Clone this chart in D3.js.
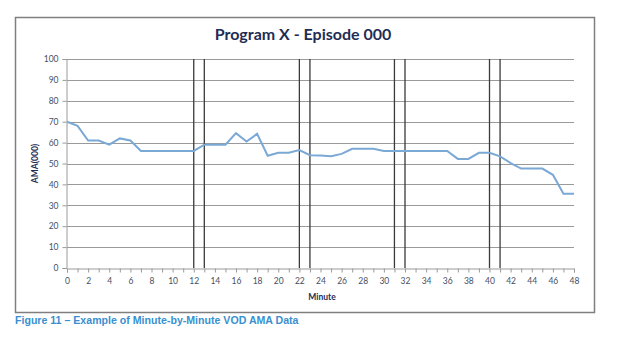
<!DOCTYPE html>
<html>
<head>
<meta charset="utf-8">
<script src="https://cdn.jsdelivr.net/npm/d3@7"></script>
<style>
  body { margin: 0; background: #fff; }
  svg { display: block; }
</style>
</head>
<body>
<svg id="chart" width="622" height="352"></svg>
<script>
// minute-by-minute AMA values (thousands)
var minutes = d3.range(0, 49);
var ama = [70, 68, 61, 61, 59, 62, 61, 56, 56, 56,
           56, 56, 56, 59, 59, 59, 64.5, 60.5, 64.2, 53.7,
           55.1, 55.1, 56.4, 54, 53.8, 53.5, 54.6, 57, 57, 57,
           56, 56, 56, 56, 56, 56, 56, 52.2, 52.2, 55.1,
           55.1, 53.4, 50.2, 47.6, 47.6, 47.6, 44.6, 35.5, 35.5];
// ad-break boundaries
var breakLines = [12, 13, 22, 23, 31, 32, 40, 41];
var yTicks = d3.range(0, 101, 10);

var title = "Program X - Episode 000";
var caption = "Figure 11 \u2013 Example of Minute-by-Minute VOD AMA Data";

var svg = d3.select("#chart");

// outer frame
svg.append("rect")
    .attr("x", 15.5).attr("y", 17.5)
    .attr("width", 579).attr("height", 295)
    .attr("fill", "#fff")
    .attr("stroke", "#7f7f7f")
    .attr("stroke-width", 1.5);

var x = d3.scaleLinear().domain([0, 48]).range([67, 574]);
var y = d3.scaleLinear().domain([0, 100]).range([268, 59]);

var navy = "#1f2d55";
var font = "Lato, 'Open Sans', sans-serif";

// gridlines
svg.append("g")
    .selectAll("line")
    .data(yTicks.filter(function (d) { return d > 0; }))
    .enter()
    .append("line")
    .attr("x1", x(0)).attr("x2", x(48))
    .attr("y1", function (d) { return Math.round(y(d)) + 0.5; })
    .attr("y2", function (d) { return Math.round(y(d)) + 0.5; })
    .attr("stroke", "#9a9a9a")
    .attr("stroke-width", 1);

// y axis
var yAxis = svg.append("g")
    .attr("transform", "translate(" + (x(0) - 0.5) + ",0)")
    .call(d3.axisLeft(y).tickValues(yTicks).tickSize(4).tickPadding(4));
yAxis.select(".domain").attr("stroke", "#9a9a9a");
yAxis.selectAll(".tick line").attr("stroke", "#9a9a9a");
yAxis.selectAll("text")
    .attr("fill", "#445066")
    .style("font-family", font)
    .style("font-size", "8.5px");

// x axis with minute ticks
var xAxis = svg.append("g")
    .attr("transform", "translate(0," + (y(0) + 0.5) + ")")
    .call(d3.axisBottom(x).tickValues(minutes).tickSize(4).tickPadding(5)
        .tickFormat(function (d) { return d % 2 === 0 ? d : ""; }));
xAxis.select(".domain").attr("stroke", "#9a9a9a");
xAxis.selectAll(".tick line").attr("stroke", "#9a9a9a");
xAxis.selectAll("text")
    .attr("fill", "#445066")
    .style("font-family", font)
    .style("font-size", "8.5px");

// break markers
svg.append("g")
    .selectAll("line")
    .data(breakLines)
    .enter()
    .append("line")
    .attr("x1", function (d) { return x(d); })
    .attr("x2", function (d) { return x(d); })
    .attr("y1", y(100)).attr("y2", y(0))
    .attr("stroke", "#3a3a3a")
    .attr("stroke-width", 1.3);

// AMA line
var line = d3.line()
    .x(function (d, i) { return x(minutes[i]); })
    .y(function (d) { return y(d); });

svg.append("path")
    .datum(ama)
    .attr("d", line)
    .attr("fill", "none")
    .attr("stroke", "#7aa9d6")
    .attr("stroke-width", 2);

// titles
svg.append("text")
    .attr("x", 303).attr("y", 40)
    .attr("text-anchor", "middle")
    .attr("fill", navy)
    .style("font-family", font)
    .style("font-weight", "bold")
    .style("font-size", "16px")
    .text(title);

svg.append("text")
    .attr("transform", "translate(38," + y(50) + ") rotate(-90)")
    .attr("text-anchor", "middle")
    .attr("fill", navy)
    .style("font-family", font)
    .style("font-weight", "bold")
    .style("font-size", "8.5px")
    .text("AMA(000)");

svg.append("text")
    .attr("x", 322).attr("y", 300)
    .attr("text-anchor", "middle")
    .attr("fill", navy)
    .style("font-family", font)
    .style("font-weight", "bold")
    .style("font-size", "8.5px")
    .text("Minute");

svg.append("text")
    .attr("x", 15).attr("y", 324)
    .attr("fill", "#3a8fd0")
    .style("font-family", "'Liberation Sans', Arial, sans-serif")
    .style("font-weight", "bold")
    .style("font-size", "10.6px")
    .text(caption);
</script>
</body>
</html>
